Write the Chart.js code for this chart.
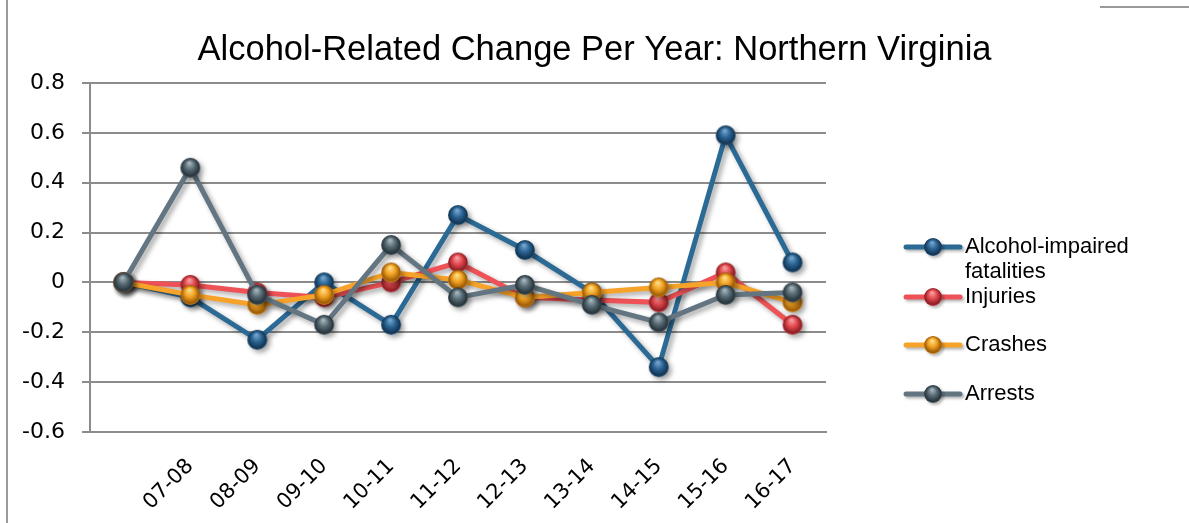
<!DOCTYPE html>
<html>
<head>
<meta charset="utf-8">
<script src="https://cdn.jsdelivr.net/npm/chart.js@4"></script>
<style>
  html, body { margin: 0; padding: 0; background: #fff; }
  #wrap { width: 1189px; height: 523px; position: relative; }
</style>
</head>
<body>
<div id="wrap"><canvas id="c" width="1189" height="523"></canvas></div>
<script>
// ---- data ----
const categories = ['', '07-08', '08-09', '09-10', '10-11', '11-12', '12-13', '13-14', '14-15', '15-16', '16-17'];
const fatalities = [0, -0.06, -0.23, 0.00, -0.17, 0.27, 0.13, -0.04, -0.34, 0.59, 0.08];
const injuries   = [0, -0.01, -0.04, -0.06, 0.00, 0.08, -0.06, -0.07, -0.08, 0.04, -0.17];
const crashes    = [0, -0.05, -0.09, -0.05, 0.04, 0.01, -0.06, -0.04, -0.02, 0.00, -0.08];
const arrests    = [0, 0.46, -0.05, -0.17, 0.15, -0.06, -0.01, -0.09, -0.16, -0.05, -0.04];
const seriesNames = ['Alcohol-impaired fatalities', 'Injuries', 'Crashes', 'Arrests'];
const legendLines = [['Alcohol-impaired', 'fatalities'], ['Injuries'], ['Crashes'], ['Arrests']];
const titleText = 'Alcohol-Related Change Per Year: Northern Virginia';
const yMin = -0.6, yMax = 0.8, yStep = 0.2;

// ---- styles ----
const palette = [
  { line: '#2c6a96', light: '#79a8cf', base: '#2a6494', dark: '#133552' },
  { line: '#ee5257', light: '#f7a3a5', base: '#e2474d', dark: '#8a1f25' },
  { line: '#f7a229', light: '#fde08a', base: '#f0a020', dark: '#9a5a08' },
  { line: '#627580', light: '#a9b8c0', base: '#566972', dark: '#27343b' }
];

const legendFont = "22px 'Liberation Sans', Arial, sans-serif";

function sphere(p, r) {
  const c = document.createElement('canvas');
  const size = Math.ceil(2 * r + 2);
  c.width = size; c.height = size;
  const ctx = c.getContext('2d');
  const cx = size / 2, cy = size / 2;
  const g = ctx.createRadialGradient(cx - r * 0.1, cy - r * 0.5, r * 0.05, cx, cy, r * 1.05);
  g.addColorStop(0, p.light);
  g.addColorStop(0.45, p.base);
  g.addColorStop(0.85, p.dark);
  g.addColorStop(1, p.base);
  ctx.fillStyle = g;
  ctx.beginPath();
  ctx.arc(cx, cy, r, 0, Math.PI * 2);
  ctx.fill();
  return c;
}

const seriesData = [fatalities, injuries, crashes, arrests];
const drawOrder = [3, 2, 1, 0]; // lower order drawn on top
const datasets = seriesData.map((d, i) => ({
  label: seriesNames[i],
  data: d,
  borderColor: palette[i].line,
  backgroundColor: palette[i].line,
  borderWidth: 5,
  pointStyle: sphere(palette[i], 10),
  pointRadius: 10,
  pointHoverRadius: 10,
  tension: 0,
  order: drawOrder[i],
  clip: false
}));

const shadowPlugin = {
  id: 'shadow',
  beforeDatasetDraw(chart) {
    const ctx = chart.ctx;
    ctx.save();
    ctx.shadowColor = 'rgba(0,0,0,0.35)';
    ctx.shadowBlur = 5;
    ctx.shadowOffsetX = 3;
    ctx.shadowOffsetY = 3;
  },
  afterDatasetDraw(chart) {
    chart.ctx.restore();
  }
};

const framePlugin = {
  id: 'frame',
  beforeDraw(chart) {
    const ctx = chart.ctx;
    ctx.save();
    ctx.strokeStyle = '#9a9a9a';
    ctx.lineWidth = 2;
    ctx.beginPath();
    ctx.moveTo(7, 0); ctx.lineTo(7, 523);
    ctx.moveTo(1100, 7); ctx.lineTo(1189, 7);
    ctx.stroke();
    ctx.restore();
  }
};

const legendPlugin = {
  id: 'customLegend',
  afterDraw(chart) {
    const ctx = chart.ctx;
    const itemY = [247, 297, 345, 394];
    const x0 = 906, x1 = 960, tx = 965;
    ctx.save();
    chart.data.datasets.forEach((ds, i) => {
      const y = itemY[i];
      ctx.save();
      ctx.shadowColor = 'rgba(0,0,0,0.3)';
      ctx.shadowBlur = 3;
      ctx.shadowOffsetX = 2;
      ctx.shadowOffsetY = 2;
      ctx.strokeStyle = ds.borderColor;
      ctx.lineWidth = 5;
      ctx.lineCap = 'round';
      ctx.beginPath();
      ctx.moveTo(x0, y); ctx.lineTo(x1, y);
      ctx.stroke();
      const s = sphere(palette[i], 9);
      ctx.drawImage(s, (x0 + x1) / 2 - s.width / 2, y - s.height / 2);
      ctx.restore();
      ctx.fillStyle = '#000';
      ctx.font = legendFont;
      ctx.textBaseline = 'middle';
      ctx.textAlign = 'left';
      legendLines[i].forEach((t, k) => ctx.fillText(t, tx, y + k * 25));
    });
    ctx.restore();
  }
};

new Chart(document.getElementById('c'), {
  type: 'line',
  data: { labels: categories, datasets },
  plugins: [framePlugin, shadowPlugin, legendPlugin],
  options: {
    responsive: false,
    animation: false,
    devicePixelRatio: 1,
    layout: { padding: 0 },
    plugins: {
      legend: { display: false },
      tooltip: { enabled: false },
      title: {
        display: true,
        text: titleText,
        color: '#000',
        font: { family: "'Liberation Sans', Arial, sans-serif", size: 34.5, weight: 'normal', lineHeight: 1.2 },
        padding: { top: 30, bottom: 11.6 }
      }
    },
    scales: {
      x: {
        offset: true,
        grid: { display: false },
        border: { display: true, color: '#8c8c8c', width: 2 },
        ticks: {
          color: '#000',
          font: { family: "'DejaVu Sans', sans-serif", size: 21 },
          minRotation: 45,
          maxRotation: 45,
          autoSkip: false,
          padding: 14
        },
        afterFit(s) { s.height = 91; }
      },
      y: {
        min: yMin,
        max: yMax,
        grid: { color: '#8c8c8c', lineWidth: 2, tickLength: 8, drawTicks: true },
        border: { display: true, color: '#8c8c8c', width: 2 },
        ticks: {
          stepSize: yStep,
          color: '#000',
          padding: 17,
          font: { family: "'DejaVu Sans', sans-serif", size: 22 },
          callback: (v) => String(Number(v.toFixed(1)))
        },
        afterFit(s) { s.width = 90; }
      },
      spacer: {
        type: 'linear',
        position: 'right',
        display: true,
        grid: { display: false },
        border: { display: false },
        ticks: { display: false },
        afterFit(s) { s.width = 363; }
      }
    }
  }
});
</script>
</body>
</html>
